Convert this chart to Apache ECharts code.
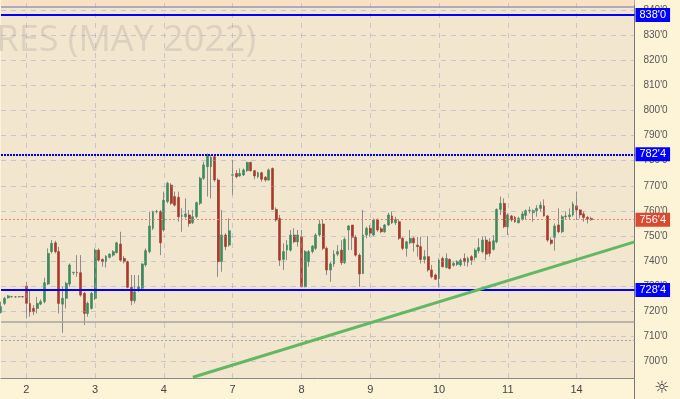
<!DOCTYPE html>
<html>
<head>
<meta charset="utf-8">
<script src="https://cdn.jsdelivr.net/npm/echarts@6/dist/echarts.min.js"></script>
<style>
  html, body { margin: 0; padding: 0; background: #fdf3d7; }
  #chart { width: 680px; height: 399px; }
</style>
</head>
<body>
<div id="chart"></div>
<script>
// hourly candles, 19 per session
var opens = [
  719.6,723.2,725.4,725.8,725.8,725.8,725.9,730.1,723.2,721.2,721.2,722.9,723.9,730.9,743.8,747.3,743.8,722.9,725.2,730.9,
  735.4,735.5,735.4,727.2,719.2,721.2,725.2,744.4,740.7,739.8,741.5,742.4,743.4,746.8,741.1,739.8,729.6,724.3,728.5,729.2,
  738.5,743.8,753.1,759.7,759.7,752.4,763.7,770.3,765.7,765.4,757.9,757.7,758.4,755.3,757.7,763.0,773.0,777.6,777.6,781.6,
  772.3,739.8,750.4,746.4,774.2,774.9,773.9,774.3,776.0,779.3,776.0,773.6,775.2,773.4,772.3,776.9,760.6,757.0,740.7,744.4,
  744.4,750.4,747.7,749.7,729.8,739.8,743.8,745.1,750.4,754.8,745.1,736.5,738.9,742.8,744.4,739.4,752.4,754.4,749.5,742.4,
  735.1,750.4,753.1,750.4,756.6,752.9,751.7,754.4,758.0,755.3,755.7,749.1,745.1,747.3,749.1,746.4,745.8,740.7,741.8,736.5,
  734.5,733.1,741.1,737.5,740.7,738.4,738.7,738.5,741.1,739.6,741.8,741.5,744.1,743.8,748.4,747.7,744.7,747.7,760.6,763.0,
  753.7,758.0,757.4,755.3,756.6,758.2,760.0,759.3,760.1,761.0,762.0,758.0,748.4,749.5,754.4,751.7,757.7,757.7,758.4,762.0,
  760.4,758.8,757.4,757.0
];
var closes = [
  721.9,725.2,726.2,725.9,725.8,725.9,725.8,723.2,719.9,719.9,723.2,723.9,731.4,743.1,747.1,743.8,723.2,725.2,731.2,738.5,
  735.6,735.4,726.5,719.2,723.2,727.2,744.4,740.4,739.8,742.0,742.8,743.8,747.3,740.4,739.8,729.6,724.3,727.8,729.8,738.9,
  744.2,754.0,759.7,759.8,747.3,764.3,771.0,763.0,762.3,757.7,758.1,758.8,755.0,757.7,763.3,773.0,778.3,781.9,781.3,772.3,
  739.8,750.4,745.8,752.1,774.4,773.6,774.9,776.3,779.3,776.0,773.9,775.2,772.6,772.3,776.3,760.6,756.4,740.4,743.8,746.4,
  750.4,747.7,750.4,729.8,743.8,743.8,746.0,750.4,754.8,745.1,736.5,738.9,742.8,743.8,739.4,748.7,754.0,749.5,742.4,734.9,
  750.4,753.1,751.1,756.4,752.4,751.7,754.4,758.4,755.3,756.6,749.1,745.1,747.7,749.1,747.3,745.8,740.7,741.8,736.5,733.8,
  732.8,740.4,737.8,741.1,737.1,739.1,739.8,740.4,739.8,741.1,740.4,744.4,745.4,748.4,742.8,743.1,748.1,760.6,763.0,753.7,
  758.4,756.4,755.7,757.0,758.8,760.1,760.2,760.1,761.0,762.3,758.0,748.4,747.1,754.0,751.7,757.7,758.0,758.4,762.7,760.4,
  758.4,757.4,756.8,756.5
];
var highs = [
  723.9,725.8,726.5,726.2,726.1,726.1,726.1,731.8,728.5,722.5,725.8,724.8,733.4,745.1,748.4,748.1,745.7,729.8,731.8,739.1,
  735.8,742.4,742.4,727.8,723.9,727.8,745.1,745.1,741.1,742.4,743.1,744.4,747.7,751.7,742.0,740.2,734.5,734.5,734.5,739.1,
  745.1,759.7,760.1,760.4,760.4,767.7,771.6,771.0,767.7,767.7,761.0,765.0,760.4,760.4,763.7,773.6,779.6,782.9,782.2,782.2,
  773.0,760.4,751.1,757.0,780.3,776.3,776.9,776.9,779.6,779.6,776.3,775.6,775.6,773.9,776.9,777.3,761.4,758.4,747.1,748.4,
  752.4,753.1,752.4,752.4,744.4,744.4,746.4,751.1,756.4,756.4,745.8,739.8,744.4,746.4,748.4,749.5,754.4,754.4,750.4,743.1,
  760.4,753.7,754.4,757.0,757.0,753.7,754.8,759.3,759.7,757.7,756.6,749.5,748.1,752.4,749.7,749.7,749.7,744.4,750.0,738.5,
  735.1,741.1,741.8,743.1,741.1,739.8,740.4,741.1,743.1,741.8,742.4,745.1,749.1,749.7,750.0,749.1,750.4,761.0,765.7,765.0,
  759.0,758.4,758.0,757.7,759.7,760.6,761.7,760.6,762.3,763.7,764.6,758.4,749.5,755.0,761.0,758.4,759.7,761.0,763.7,767.7,
  760.6,759.7,758.0,757.7
];
var lows = [
  719.2,722.5,725.1,725.5,725.5,725.5,725.5,717.2,717.9,718.5,719.2,722.5,723.2,730.5,743.1,743.1,719.2,711.5,721.2,729.8,
  734.5,733.8,725.9,714.6,717.9,720.8,724.5,739.8,737.8,737.5,741.1,741.8,743.1,739.8,739.1,729.2,722.5,723.2,727.8,728.8,
  737.8,743.1,752.4,759.0,742.4,751.7,763.0,762.3,761.7,755.7,751.7,757.0,753.7,754.8,757.0,762.3,772.3,765.7,765.0,771.6,
  733.8,735.8,744.4,745.8,766.3,773.0,773.6,773.9,775.6,775.6,772.6,773.0,771.6,771.6,772.0,760.4,755.7,738.1,736.5,740.4,
  743.8,747.1,745.8,729.6,729.6,737.8,743.1,744.4,749.7,744.4,734.5,731.8,737.8,742.0,738.5,738.9,744.4,744.4,741.8,729.8,
  734.9,749.1,749.7,750.0,751.7,751.1,751.3,754.0,754.8,754.4,748.4,744.4,741.8,746.8,743.8,741.8,739.1,739.1,735.8,733.1,
  732.5,729.6,737.5,737.1,736.7,737.8,738.1,737.8,738.1,737.8,738.5,740.4,743.1,743.1,740.4,741.8,744.2,747.1,758.4,753.1,
  750.4,755.7,755.3,755.0,756.1,756.4,759.0,755.7,757.7,759.7,757.7,747.7,746.4,744.2,751.1,751.1,756.4,756.4,757.7,756.4,
  757.0,755.7,755.0,756.1
];
var dayLabels = ['2', '3', '4', '7', '8', '9', '10', '11', '14'];
var dayIndex = [7, 26, 45, 64, 83, 102, 121, 140, 159];
var emptySlots = 12;
var yTicks = [700, 710, 720, 730, 740, 750, 760, 770, 780, 790, 800, 810, 820, 830, 840];
// horizontal levels drawn on the chart
var levels = [838, 782.5, 728.5];
var levelLabels = ["838'0", "782'4", "728'4"];
var lastPrice = 756.5;
var lastLabel = "756'4";
var greyLevels = [715.8, 708.6, 841.3];
// trend line: [candle index, price]
var trendStart = [53, 693.8];
var trendEnd = [175, 747.7];

var N = opens.length + emptySlots;
var categories = [];
for (var i = 0; i < N; i++) categories.push('');
dayIndex.forEach(function (d, k) { categories[d] = dayLabels[k]; });

var wickData = [], bodyData = [];
for (var j = 0; j < opens.length; j++) {
  wickData.push([opens[j], closes[j], lows[j], highs[j]]);
  bodyData.push([opens[j], closes[j], Math.min(opens[j], closes[j]), Math.max(opens[j], closes[j])]);
}

function dayTick(idx) { return categories[idx] !== ''; }

function gridStyle() { return { color: 'rgba(150,160,200,0.45)', width: 1, type: [5, 5] }; }
// dashed grid: session starts and price ticks
var gridLines = dayIndex.map(function (d) {
  return { xAxis: d, lineStyle: gridStyle(), label: { show: false } };
}).concat(yTicks.map(function (v) {
  return { yAxis: v, lineStyle: gridStyle(), label: { show: false } };
}));

var markLines = [];
levels.forEach(function (v, k) {
  markLines.push({
    yAxis: v,
    lineStyle: { color: '#0000ff', width: 2, type: k === 1 ? [2, 1] : 'solid' },
    label: { show: true, formatter: levelLabels[k], backgroundColor: '#0000ff' }
  });
});
markLines.push({
  yAxis: lastPrice,
  lineStyle: { color: '#e8846c', width: 1, type: [2, 2] },
  label: { show: true, formatter: lastLabel, backgroundColor: '#d94a33' }
});
greyLevels.forEach(function (v, k) {
  markLines.push({
    yAxis: v,
    lineStyle: { color: k === 2 ? '#9a94b8' : '#a8a49c', width: k === 1 ? 1 : 1.5, type: k === 1 ? [2, 2] : 'solid' },
    label: { show: false }
  });
});
markLines.push([
  { coord: trendStart, lineStyle: { color: '#62b862', width: 3, type: 'solid' }, label: { show: false } },
  { coord: trendEnd }
]);

var chart = echarts.init(document.getElementById('chart'));
var option = {
  backgroundColor: '#fdf3d7',
  animation: false,
  textStyle: { fontFamily: 'Liberation Sans' },
  grid: { left: 1, right: 45.5, top: 0, bottom: 21, show: true, backgroundColor: '#f2e6ce', borderWidth: 0 },
  graphic: [
    { type: 'text', x: 256, y: 41, z: 1, silent: true,
      style: { text: 'CORN FUTURES (MAY 2022)', font: '36px "Open Sans"', fill: '#dbd1be', textAlign: 'right', textVerticalAlign: 'middle' } },
    { type: 'line', silent: true, shape: { x1: 634.5, y1: 378, x2: 634.5, y2: 399 }, style: { stroke: '#777', lineWidth: 1 } },
    { type: 'text', x: 662, y: 389, silent: true,
      style: { text: '☼', font: '17px "DejaVu Sans"', fill: '#333', textAlign: 'center', textVerticalAlign: 'middle' } }
  ],
  xAxis: {
    type: 'category',
    data: categories,
    boundaryGap: false,
    axisLine: { lineStyle: { color: '#888', width: 1 } },
    axisTick: { show: false },
    axisLabel: { interval: dayTick, color: '#444', fontSize: 11, margin: 6 },
    splitLine: { show: false },
    splitArea: { show: false }
  },
  yAxis: {
    type: 'value',
    position: 'right',
    min: 693.51,
    max: 843.93,
    axisLine: { show: true, lineStyle: { color: '#777', width: 1 } },
    axisTick: { show: false },
    axisLabel: { customValues: yTicks, color: '#555', fontSize: 10, margin: 9,
      formatter: function (v) { return v + "'0"; } },
    splitLine: { show: false },
    splitArea: { show: false }
  },
  series: [{
    type: 'candlestick',
    name: 'grid',
    data: [],
    z: 1,
    silent: true,
    markLine: {
      silent: true,
      symbol: ['none', 'none'],
      animation: false,
      data: gridLines
    }
  }, {
    type: 'candlestick',
    name: 'wicks',
    data: wickData,
    barWidth: 1,
    silent: true,
    itemStyle: { color: '#8c8c8c', color0: '#8c8c8c', borderColor: '#8c8c8c', borderColor0: '#8c8c8c', borderWidth: 1 },
    markArea: {
      silent: true,
      itemStyle: { color: '#fbe1c3' },
      data: [[{ yAxis: 841.9 }, { yAxis: 843.93 }]]
    },
    markLine: {
      silent: true,
      symbol: ['none', 'none'],
      animation: false,
      label: { position: 'end', distance: 1, color: '#fff', fontSize: 11, fontFamily: 'Liberation Sans', padding: [2, 4, 1, 4] },
      data: markLines
    }
  }, {
    type: 'candlestick',
    name: 'bodies',
    data: bodyData,
    barWidth: 2.4,
    silent: true,
    itemStyle: { color: '#3d8a5c', color0: '#a8392b', borderColor: '#3d8a5c', borderColor0: '#a8392b', borderWidth: 0.6 }
  }]
};
chart.setOption(option);
window.addEventListener('resize', function () { chart.resize(); });
</script>
</body>
</html>
